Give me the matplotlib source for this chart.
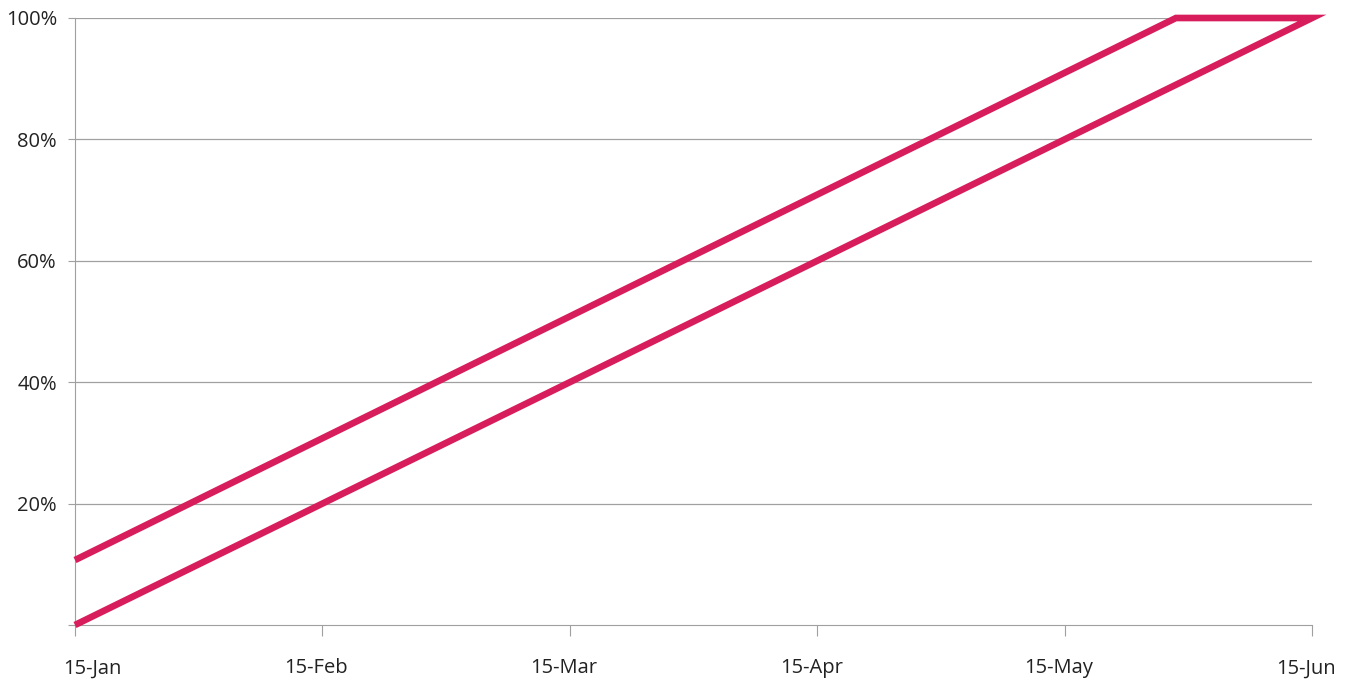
import matplotlib
matplotlib.use("Agg")
import matplotlib.pyplot as plt
import matplotlib.transforms as mtransforms

# tick labels on the x axis, one per month
months = ["15-Jan", "15-Feb", "15-Mar", "15-Apr", "15-May", "15-Jun"]
month_pos = [0, 1, 2, 3, 4, 5]

# one path: upper line up to 100%, flat, then back down the lower line
path_x = [0, 4.45, 5, 0]
path_y = [10.7, 100, 100, 0]

y_ticks = [0, 20, 40, 60, 80, 100]
y_labels = ["", "20%", "40%", "60%", "80%", "100%"]

plt.rcParams["font.family"] = ["Open Sans", "DejaVu Sans"]

fig = plt.figure(figsize=(13.54, 6.8), dpi=100)
ax = fig.add_axes([75 / 1354, 55 / 680, (1312 - 75) / 1354, (625 - 18) / 680])

# gridlines
for v in y_ticks[1:]:
    ax.axhline(v, color="#a0a0a0", linewidth=0.9, zorder=1)

ax.plot(path_x, path_y, color="#d81d5c", linewidth=4.8, solid_joinstyle="miter",
        solid_capstyle="butt", clip_on=False, zorder=3)

ax.set_xlim(0, 5)
ax.set_ylim(0, 100)
ax.set_xticks(month_pos)
ax.set_xticklabels(months, fontsize=14.5, color="#222222")
ax.set_yticks(y_ticks)
ax.set_yticklabels(y_labels, fontsize=14.5, color="#222222")

for s in ["top", "right"]:
    ax.spines[s].set_visible(False)
ax.spines["left"].set_color("#a0a0a0")
ax.spines["bottom"].set_color("#a0a0a0")
ax.tick_params(axis="x", direction="out", length=8, color="#a0a0a0", pad=16)
ax.tick_params(axis="y", direction="out", length=5, color="#a0a0a0", pad=8)

# labels sit a little left of their ticks, the first one is pushed inside
labels = ax.get_xticklabels()
for i, lab in enumerate(labels):
    if i == 0:
        lab.set_ha("left")
        shift = mtransforms.ScaledTranslation(-12 / 100, 0, fig.dpi_scale_trans)
    else:
        shift = mtransforms.ScaledTranslation(-6 / 100, 0, fig.dpi_scale_trans)
    lab.set_transform(lab.get_transform() + shift)

fig.savefig("out.png", dpi=100)
